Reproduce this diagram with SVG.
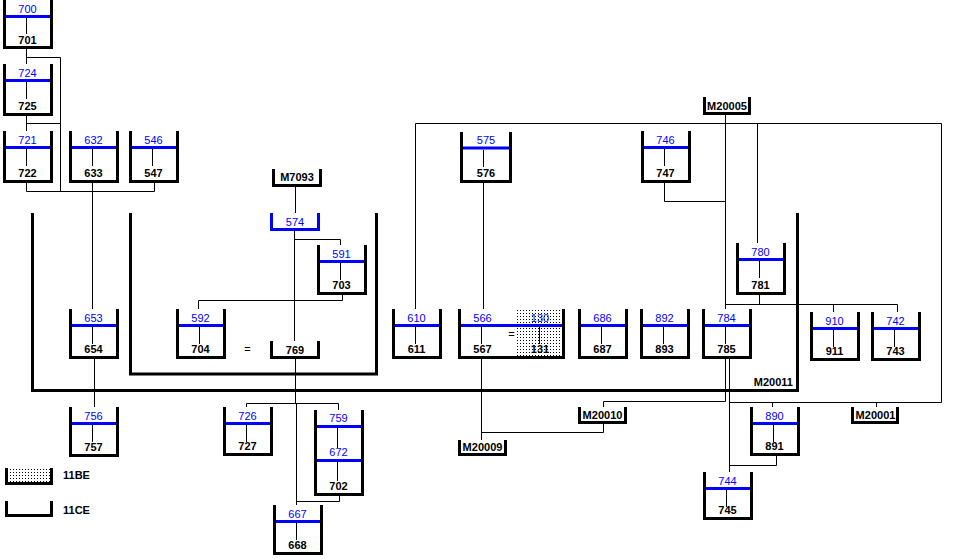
<svg xmlns="http://www.w3.org/2000/svg" width="974" height="559" viewBox="0 0 974 559">
<style>
.w{fill:none;stroke:#000;stroke-width:3}
.wb{fill:none;stroke:#00f;stroke-width:3}
.bl{stroke:#00f;stroke-width:3}
.il{stroke:#000;stroke-width:1}
.c{fill:none;stroke:#000;stroke-width:1}
.ct{fill:none;stroke:#000;stroke-width:3}
.tb{font-family:"Liberation Sans",Arial,sans-serif;font-size:11px;fill:#00f;text-anchor:middle}
.tk{font-family:"Liberation Sans",Arial,sans-serif;font-size:11px;font-weight:bold;fill:#000;text-anchor:middle}
.tr{font-family:"Liberation Sans",Arial,sans-serif;font-size:11px;fill:#000;text-anchor:middle}
</style>
<defs>
<pattern id="dots" width="3" height="3" patternUnits="userSpaceOnUse"><rect x="1" y="1" width="1" height="1" fill="#000"/></pattern>
</defs>
<rect width="974" height="559" fill="#fff"/>

<g id="containers">
<path class="ct" d="M32.5 213 V390.5 H797.5 V213"/>
<path class="ct" d="M130.5 213 V374 H376.5 V213"/>
<text class="tk" x="793" y="386" style="text-anchor:end">M20011</text>
</g>

<g id="connectors">
<path class="c" d="M26.5 49 V64 M26.5 57.5 H60.5 V191.5 M26.5 116 V131 M26.5 123.5 H60.5 M26.5 183 V191.5 H154.5 V183 M92.5 183 V309 M94.5 358 V407"/>
<path class="c" d="M295.5 187 V213 M294.5 231 V341 M294.5 239.5 H340.5 V245 M342.5 295 V300.5 H198.5 V309 M295.5 359 V403.5 M246.5 407 V403.5 H338.5 V410 M296.5 403.5 V505 M296.5 501.5 H339.5 V495"/>
<path class="c" d="M415.5 309 V123.5 H941.5 V402.5 H729.5 M729.5 358 V472 M729.5 465.5 H776.5 V455 M772.5 402.5 V407 M876.5 402.5 V407 M725.5 358 V401.5 H603.5 V407"/>
<path class="c" d="M725.5 115 V309 M664.5 183 V201.5 H725.5 M757.5 123.5 V243 M725.5 304.5 H897.5 V312 M759.5 295 V304.5 M833.5 304.5 V312"/>
<path class="c" d="M483.5 183 V309 M481.5 358 V440 M481.5 432.5 H603.5 V424"/>
</g>

<g id="n700"><path class="w" d="M4.5 0 V47.5 H51.5 V0"/><line class="bl" x1="6" x2="50" y1="16.5" y2="16.5"/><line class="il" x1="26.5" x2="26.5" y1="18" y2="34"/><text class="tb" x="27.5" y="12.5">700</text><text class="tk" x="27.5" y="44">701</text></g>
<g id="n724"><path class="w" d="M4.5 64 V114.5 H51.5 V64"/><line class="bl" x1="6" x2="50" y1="80.5" y2="80.5"/><line class="il" x1="26.5" x2="26.5" y1="82" y2="99"/><text class="tb" x="27.5" y="76.5">724</text><text class="tk" x="27.5" y="110">725</text></g>
<g id="n721"><path class="w" d="M4.5 131 V181.5 H51.5 V131"/><line class="bl" x1="6" x2="50" y1="147.5" y2="147.5"/><line class="il" x1="26.5" x2="26.5" y1="149" y2="166"/><text class="tb" x="27.5" y="143.5">721</text><text class="tk" x="27.5" y="177">722</text></g>
<g id="n632"><path class="w" d="M70.5 131 V181.5 H117.5 V131"/><line class="bl" x1="72" x2="116" y1="147.5" y2="147.5"/><line class="il" x1="92.5" x2="92.5" y1="149" y2="166"/><text class="tb" x="93.5" y="143.5">632</text><text class="tk" x="93.5" y="177">633</text></g>
<g id="n546"><path class="w" d="M130.5 131 V181.5 H177.5 V131"/><line class="bl" x1="132" x2="176" y1="147.5" y2="147.5"/><line class="il" x1="152.5" x2="152.5" y1="149" y2="166"/><text class="tb" x="153.5" y="143.5">546</text><text class="tk" x="153.5" y="177">547</text></g>
<g id="n653"><path class="w" d="M70.5 309 V357.5 H117.5 V309"/><line class="bl" x1="72" x2="116" y1="325.5" y2="325.5"/><line class="il" x1="92.5" x2="92.5" y1="327" y2="344"/><text class="tb" x="93.5" y="321.5">653</text><text class="tk" x="93.5" y="353">654</text></g>
<g id="n756"><path class="w" d="M70.5 407 V455.5 H117.5 V407"/><line class="bl" x1="72" x2="116" y1="423.5" y2="423.5"/><line class="il" x1="92.5" x2="92.5" y1="425" y2="442"/><text class="tb" x="93.5" y="419.5">756</text><text class="tk" x="93.5" y="451">757</text></g>

<g id="nM7093"><path class="w" d="M273.5 169 V185.5 H320.5 V169"/><text class="tk" x="297" y="181">M7093</text></g>
<g id="n574"><path class="wb" d="M271.5 213 V229.5 H318.5 V213"/><text class="tb" x="295" y="225.5">574</text></g>
<g id="n591"><path class="w" d="M318.5 245 V293.5 H365.5 V245"/><line class="bl" x1="320" x2="364" y1="261.5" y2="261.5"/><line class="il" x1="340.5" x2="340.5" y1="263" y2="280"/><text class="tb" x="341.5" y="257.5">591</text><text class="tk" x="341.5" y="289">703</text></g>
<g id="n592"><path class="w" d="M177.5 309 V357.5 H224.5 V309"/><line class="bl" x1="179" x2="223" y1="325.5" y2="325.5"/><line class="il" x1="199.5" x2="199.5" y1="327" y2="344"/><text class="tb" x="200.5" y="321.5">592</text><text class="tk" x="200.5" y="353">704</text></g>
<g id="eq1"><text class="tr" x="247.5" y="353">=</text></g>
<g id="n769"><path class="w" d="M271.5 341 V357.5 H318.5 V341"/><text class="tk" x="295" y="353.5">769</text></g>
<g id="n726"><path class="w" d="M224.5 407 V454.5 H271.5 V407"/><line class="bl" x1="226" x2="270" y1="423.5" y2="423.5"/><line class="il" x1="246.5" x2="246.5" y1="425" y2="442"/><text class="tb" x="247.5" y="419.5">726</text><text class="tk" x="247.5" y="450">727</text></g>
<g id="n759"><path class="w" d="M315.5 410 V494.5 H362.5 V410"/><line class="bl" x1="317" x2="361" y1="426.5" y2="426.5"/><line class="il" x1="337.5" x2="337.5" y1="428" y2="448"/><text class="tb" x="338.5" y="422">759</text><text class="tb" x="338.5" y="456">672</text><line class="bl" x1="317" x2="361" y1="460.5" y2="460.5"/><line class="il" x1="337.5" x2="337.5" y1="462" y2="481"/><text class="tk" x="338.5" y="490">702</text></g>
<g id="n667"><path class="w" d="M274.5 505 V553.5 H321.5 V505"/><line class="bl" x1="276" x2="320" y1="521.5" y2="521.5"/><line class="il" x1="296.5" x2="296.5" y1="523" y2="540"/><text class="tb" x="297.5" y="517.5">667</text><text class="tk" x="297.5" y="549">668</text></g>

<g id="n575"><path class="w" d="M461.5 132 V181.5 H510.5 V132"/><line class="bl" x1="463" x2="509" y1="148" y2="148"/><line class="il" x1="483.5" x2="483.5" y1="150" y2="167"/><text class="tb" x="486" y="143.5">575</text><text class="tk" x="486" y="177">576</text></g>
<g id="n610"><path class="w" d="M393.5 309 V357.5 H440.5 V309"/><line class="bl" x1="395" x2="439" y1="325.5" y2="325.5"/><line class="il" x1="415.5" x2="415.5" y1="327" y2="344"/><text class="tb" x="416.5" y="321.5">610</text><text class="tk" x="416.5" y="353">611</text></g>
<g id="n566"><rect x="517" y="309" width="45" height="47" fill="url(#dots)"/><path class="w" d="M459.5 309 V357.5 H563.5 V309"/><line class="bl" x1="461" x2="562" y1="325.5" y2="325.5"/><line class="il" x1="481.5" x2="481.5" y1="327" y2="344"/><line class="il" x1="539.5" x2="539.5" y1="327" y2="344"/><text class="tb" x="482.5" y="321.5">566</text><text class="tb" x="540" y="321.5">130</text><text class="tr" x="511.5" y="337.5">=</text><text class="tk" x="482.5" y="353">567</text><text class="tk" x="540" y="353">131</text></g>
<g id="n686"><path class="w" d="M579.5 309 V357.5 H626.5 V309"/><line class="bl" x1="581" x2="625" y1="325.5" y2="325.5"/><line class="il" x1="601.5" x2="601.5" y1="327" y2="344"/><text class="tb" x="602.5" y="321.5">686</text><text class="tk" x="602.5" y="353">687</text></g>
<g id="n892"><path class="w" d="M641.5 309 V357.5 H688.5 V309"/><line class="bl" x1="643" x2="687" y1="325.5" y2="325.5"/><line class="il" x1="663.5" x2="663.5" y1="327" y2="344"/><text class="tb" x="664.5" y="321.5">892</text><text class="tk" x="664.5" y="353">893</text></g>
<g id="n784"><path class="w" d="M703.5 309 V357.5 H750.5 V309"/><line class="bl" x1="705" x2="749" y1="325.5" y2="325.5"/><line class="il" x1="725.5" x2="725.5" y1="327" y2="344"/><text class="tb" x="726.5" y="321.5">784</text><text class="tk" x="726.5" y="353">785</text></g>
<g id="nM20009"><path class="w" d="M459.5 440 V454.5 H505.5 V440"/><text class="tk" x="482.5" y="451">M20009</text></g>
<g id="nM20010"><path class="w" d="M579.5 407 V422.5 H625.5 V407"/><text class="tk" x="602.5" y="419">M20010</text></g>

<g id="nM20005"><path class="w" d="M704.5 97 V113.5 H749.5 V97"/><text class="tk" x="727" y="110">M20005</text></g>
<g id="n746"><path class="w" d="M642.5 131 V181.5 H689.5 V131"/><line class="bl" x1="644" x2="688" y1="147.5" y2="147.5"/><line class="il" x1="664.5" x2="664.5" y1="149" y2="166"/><text class="tb" x="665.5" y="143.5">746</text><text class="tk" x="665.5" y="177">747</text></g>
<g id="n780"><path class="w" d="M737.5 243 V293.5 H784.5 V243"/><line class="bl" x1="739" x2="783" y1="259.5" y2="259.5"/><line class="il" x1="759.5" x2="759.5" y1="261" y2="278"/><text class="tb" x="760.5" y="255.5">780</text><text class="tk" x="760.5" y="289">781</text></g>
<g id="n910"><path class="w" d="M811.5 312 V359.5 H858.5 V312"/><line class="bl" x1="813" x2="857" y1="328.5" y2="328.5"/><line class="il" x1="833.5" x2="833.5" y1="330" y2="347"/><text class="tb" x="834.5" y="324.5">910</text><text class="tk" x="834.5" y="355">911</text></g>
<g id="n742"><path class="w" d="M872.5 312 V359.5 H919.5 V312"/><line class="bl" x1="874" x2="918" y1="328.5" y2="328.5"/><line class="il" x1="894.5" x2="894.5" y1="330" y2="347"/><text class="tb" x="895.5" y="324.5">742</text><text class="tk" x="895.5" y="355">743</text></g>
<g id="n890"><path class="w" d="M751.5 407 V454.5 H798.5 V407"/><line class="bl" x1="753" x2="797" y1="423.5" y2="423.5"/><line class="il" x1="773.5" x2="773.5" y1="425" y2="442"/><text class="tb" x="774.5" y="419.5">890</text><text class="tk" x="774.5" y="450">891</text></g>
<g id="n744"><path class="w" d="M704.5 472 V518.5 H751.5 V472"/><line class="bl" x1="706" x2="750" y1="488.5" y2="488.5"/><line class="il" x1="726.5" x2="726.5" y1="490" y2="507"/><text class="tb" x="727.5" y="484.5">744</text><text class="tk" x="727.5" y="514">745</text></g>
<g id="nM20001"><path class="w" d="M852.5 407 V422.5 H897.5 V407"/><text class="tk" x="875.5" y="419">M20001</text></g>

<g id="legend11BE"><rect x="8" y="468" width="42" height="14" fill="url(#dots)"/><path class="w" d="M6.5 468 V483.5 H51.5 V468"/><text class="tk" x="63" y="478.5" style="text-anchor:start">11BE</text></g>
<g id="legend11CE"><path class="w" d="M6.5 501 V515.5 H51.5 V501"/><text class="tk" x="63" y="513.5" style="text-anchor:start">11CE</text></g>
</svg>
